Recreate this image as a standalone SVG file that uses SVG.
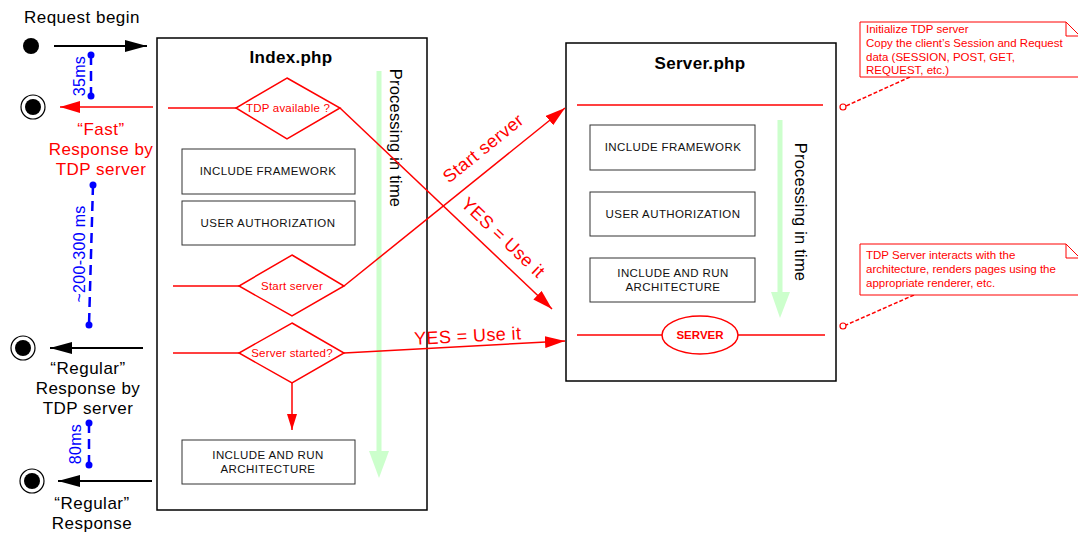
<svg xmlns="http://www.w3.org/2000/svg" width="1078" height="536" viewBox="0 0 1078 536">
<style>
text{font-family:"Liberation Sans",Arial,sans-serif}
.box{fill:#fff;stroke:#000;stroke-width:1.5}
.step{fill:#fff;stroke:#333;stroke-width:1}
.st{font-size:11.5px;fill:#111;text-anchor:middle;letter-spacing:0.4px}
.dia{fill:#fff;stroke:#f00;stroke-width:1.5}
.dt{font-size:11.5px;fill:#f00;text-anchor:middle;letter-spacing:0.2px}
.red{stroke:#f00;stroke-width:1.5;fill:none}
.blk{stroke:#000;stroke-width:2;fill:none}
.blue{stroke:#00f;stroke-width:2.5;stroke-dasharray:10,6;fill:none}
.bt{font-size:16px;fill:#00f;text-anchor:middle;letter-spacing:0.3px}
.lab{font-size:17px;text-anchor:middle;letter-spacing:0.5px}
.big{font-size:18px;text-anchor:middle;letter-spacing:0.4px}
.green{stroke:#ccffcc;stroke-width:5;fill:none}
.pt{font-size:16.5px;fill:#000;text-anchor:middle;letter-spacing:0.2px}
.note{fill:#fff;stroke:#f00;stroke-width:1}
.nt{font-size:11.5px;fill:#f00}
.dash{stroke:#f00;stroke-width:1.5;stroke-dasharray:4,2;fill:none}
.ttl{font-size:17px;font-weight:bold;text-anchor:middle;letter-spacing:0.3px}
</style>
<defs>
<marker id="ab" markerWidth="22" markerHeight="12" refX="22" refY="6" orient="auto" markerUnits="userSpaceOnUse"><path d="M0,0 L22,6 L0,12 Z" fill="#000"/></marker>
<marker id="ar" markerWidth="20" markerHeight="12" refX="20" refY="6" orient="auto" markerUnits="userSpaceOnUse"><path d="M0,0 L20,6 L0,12 Z" fill="#f00"/></marker>
<marker id="ars" markerWidth="16" markerHeight="10" refX="16" refY="5" orient="auto" markerUnits="userSpaceOnUse"><path d="M0,0 L16,5 L0,10 Z" fill="#f00"/></marker>
</defs>

<g id="index">
<rect class="box" x="157" y="38" width="270" height="472"/>
<text class="ttl" x="291" y="63">Index.php</text>
</g>
<g id="server-box">
<rect class="box" x="566" y="43" width="270" height="338"/>
<text class="ttl" x="700" y="69">Server.php</text>
</g>

<g id="green-arrows">
<line class="green" x1="379" y1="71" x2="379" y2="452"/>
<path d="M369,451 L389,451 L379,478 Z" fill="#ccffcc"/>
<text class="pt" transform="translate(390,138) rotate(90)">Processing in time</text>
<line class="green" x1="780" y1="120" x2="780" y2="293"/>
<path d="M771,292 L790,292 L780,318 Z" fill="#ccffcc"/>
<text class="pt" transform="translate(795,212) rotate(90)">Processing in time</text>
</g>

<g id="index-steps">
<g id="i-fw"><rect class="step" x="182" y="149" width="173" height="45"/><text class="st" x="268" y="175">INCLUDE FRAMEWORK</text></g>
<g id="i-auth"><rect class="step" x="182" y="201" width="173" height="44"/><text class="st" x="268" y="227">USER AUTHORIZATION</text></g>
<g id="i-arch"><rect class="step" x="182" y="440" width="173" height="44"/><text class="st" x="268" y="459">INCLUDE AND RUN</text><text class="st" x="268" y="473">ARCHITECTURE</text></g>
<g id="d-tdp"><path class="dia" d="M287,78 L340,108 L287,139 L236,108 Z"/><text class="dt" x="288" y="112">TDP available ?</text></g>
<g id="d-start"><path class="dia" d="M292,255 L344,286 L292,316 L239,286 Z"/><text class="dt" x="292" y="290">Start server</text></g>
<g id="d-started"><path class="dia" d="M292,323 L344,353 L292,383 L239,353 Z"/><text class="dt" x="292" y="357">Server started?</text></g>
</g>

<g id="server-steps">
<g id="s-fw"><rect class="step" x="590" y="125" width="165" height="45"/><text class="st" x="673" y="151">INCLUDE FRAMEWORK</text></g>
<g id="s-auth"><rect class="step" x="590" y="192" width="165" height="44"/><text class="st" x="673" y="218">USER AUTHORIZATION</text></g>
<g id="s-arch"><rect class="step" x="590" y="258" width="165" height="44"/><text class="st" x="673" y="277">INCLUDE AND RUN</text><text class="st" x="673" y="291">ARCHITECTURE</text></g>
<g id="s-server"><line class="red" x1="577" y1="335" x2="825" y2="335"/><ellipse cx="700" cy="335" rx="38" ry="19" fill="#fff" stroke="#f00" stroke-width="1.5"/><text x="700" y="339" font-size="11.5" font-weight="bold" fill="#f00" text-anchor="middle">SERVER</text></g>
</g>

<g id="connectors">
<line class="red" x1="168" y1="108" x2="236" y2="108"/>
<line class="red" x1="173" y1="286" x2="239" y2="286"/>
<line class="red" x1="173" y1="353" x2="239" y2="353"/>
<line class="red" x1="577" y1="105" x2="823" y2="105"/>
<line class="red" x1="292" y1="383" x2="292" y2="430" marker-end="url(#ars)"/>
<line class="red" x1="340" y1="108" x2="552" y2="309" marker-end="url(#ar)"/>
<line class="red" x1="344" y1="286" x2="565" y2="108" marker-end="url(#ar)"/>
<line class="red" x1="344" y1="353" x2="565" y2="341" marker-end="url(#ar)"/>
<text class="big" fill="#f00" transform="translate(487,153) rotate(-39)">Start server</text>
<text class="big" fill="#f00" transform="translate(499,242) rotate(43.5)">YES = Use it</text>
<text class="big" fill="#f00" transform="translate(468,342) rotate(-3)">YES = Use it</text>
<line class="blk" x1="54" y1="46" x2="147" y2="46" marker-end="url(#ab)"/>
<line class="red" stroke-width="2.5" x1="153" y1="107" x2="60" y2="107" marker-end="url(#ar)"/>
<line class="blk" x1="143" y1="348" x2="50" y2="348" marker-end="url(#ab)"/>
<line class="blk" x1="152" y1="481" x2="58" y2="481" marker-end="url(#ab)"/>
<line class="dash" x1="910" y1="77" x2="846" y2="106"/>
<circle cx="843" cy="107" r="3" fill="#fff" stroke="#f00" stroke-width="1.2"/>
<line class="dash" x1="914" y1="295" x2="846" y2="325"/>
<circle cx="843" cy="326" r="3" fill="#fff" stroke="#f00" stroke-width="1.2"/>
</g>

<g id="left-events">
<text class="lab" x="82" y="23">Request begin</text>
<circle cx="31" cy="46" r="8" fill="#000"/>
<circle cx="33" cy="107" r="12" fill="#fff" stroke="#000" stroke-width="1.2"/><circle cx="33" cy="107" r="8" fill="#000"/>
<circle cx="23" cy="348" r="12" fill="#fff" stroke="#000" stroke-width="1.2"/><circle cx="23" cy="348" r="8" fill="#000"/>
<circle cx="32" cy="481" r="12" fill="#fff" stroke="#000" stroke-width="1.2"/><circle cx="32" cy="481" r="8" fill="#000"/>
<text class="lab" fill="#f00" x="101" y="135">“Fast”</text>
<text class="lab" fill="#f00" x="101" y="155">Response by</text>
<text class="lab" fill="#f00" x="101" y="175">TDP server</text>
<text class="lab" fill="#000" x="88" y="374">“Regular”</text>
<text class="lab" fill="#000" x="88" y="394">Response by</text>
<text class="lab" fill="#000" x="88" y="414">TDP server</text>
<text class="lab" fill="#000" x="92" y="509">“Regular”</text>
<text class="lab" fill="#000" x="92" y="529">Response</text>
</g>

<g id="timings">
<line class="blue" x1="91" y1="55" x2="91" y2="96"/>
<circle cx="91" cy="55" r="3.5" fill="#00f"/><circle cx="91" cy="96" r="3.5" fill="#00f"/>
<text class="bt" transform="translate(85,76) rotate(-90)">35ms</text>
<line class="blue" x1="93" y1="185" x2="89" y2="325"/>
<circle cx="93" cy="185" r="3.5" fill="#00f"/><circle cx="89" cy="325" r="3.5" fill="#00f"/>
<text class="bt" transform="translate(85,254) rotate(-90)">~200-300 ms</text>
<line class="blue" x1="89" y1="423" x2="89" y2="465"/>
<circle cx="89" cy="423" r="3.5" fill="#00f"/><circle cx="89" cy="465" r="3.5" fill="#00f"/>
<text class="bt" transform="translate(81,444) rotate(-90)">80ms</text>
</g>

<g id="note1">
<path class="note" d="M860,22 H1066 L1080,36 V77 H860 Z"/>
<path d="M1066,22 V36 H1080" fill="none" stroke="#f00" stroke-width="1"/>
<text class="nt" x="866" y="33">Initialize TDP server</text>
<text class="nt" x="866" y="47">Copy the client’s Session and Request</text>
<text class="nt" x="866" y="61">data (SESSION, POST, GET,</text>
<text class="nt" x="866" y="74">REQUEST, etc.)</text>
</g>
<g id="note2">
<path class="note" d="M860,244 H1066 L1080,258 V295 H860 Z"/>
<path d="M1066,244 V258 H1080" fill="none" stroke="#f00" stroke-width="1"/>
<text class="nt" x="866" y="259">TDP Server interacts with the</text>
<text class="nt" x="866" y="273">architecture, renders pages using the</text>
<text class="nt" x="866" y="287">appropriate renderer, etc.</text>
</g>
</svg>
